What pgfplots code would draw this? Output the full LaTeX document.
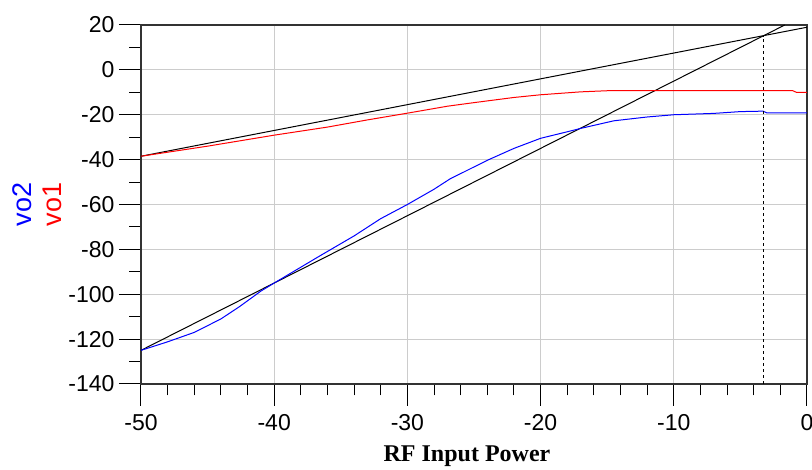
\documentclass[border=0pt]{standalone}
\usepackage{fontspec}
\setmainfont{Liberation Sans}
\newfontfamily\serifbold{Liberation Serif}
\usepackage{pgfplots}
\pgfplotsset{compat=1.18}

\begin{document}
\begin{tikzpicture}
\begin{axis}[
  at={(0pt,0pt)}, anchor=south west,
  scale only axis,
  width=666pt, height=359pt,
  xmin=-50, xmax=0, ymin=-140, ymax=20,
  xtick={-50,-40,...,0},
  ytick={-140,-120,...,20},
  minor x tick num=4,
  minor y tick num=1,
  xtick pos=left, ytick pos=left,
  tick align=outside,
  major tick length=22pt,
  minor tick length=11.5pt,
  tick style={black, line width=1pt},
  axis line style={black!80, line width=1.2pt},
  grid=major,
  major grid style={black!20, line width=1pt},
  /pgf/number format/assume math mode=true,
  ticklabel style={font=\fontsize{23}{26}\selectfont},
  xticklabel style={yshift=-5pt},
  yticklabel style={xshift=-1pt},
  xlabel={\serifbold\bfseries RF Input Power},
  xlabel style={font=\fontsize{24}{28}\selectfont, at={(axis description cs:0.5,0)}, anchor=base, yshift=-77.5pt, xshift=-7pt},
  ylabel={\textcolor{blue}{vo2}\\\textcolor{red}{vo1}},
  ylabel style={font=\fontsize{27}{30}\selectfont, align=center, inner sep=0pt,
    at={([xshift=-79pt]axis description cs:0,0.5)}, anchor=south},
  every axis plot/.append style={line join=round},
]
\addplot[black, line width=1pt] coordinates {(-50,-38.5) (0,19)};
\addplot[black, line width=1pt] coordinates {(-50,-125) (-1.667,20)};
\addplot[red, line width=1pt] coordinates {
  (-50,-38.5) (-45,-34) (-40,-29.1) (-36,-25.5) (-33,-22.3) (-30,-19.3)
  (-27,-16.2) (-25,-14.6) (-22,-12.3) (-20,-11.1) (-17,-9.8) (-15,-9.3)
  (-10,-9.2) (-5,-9.2) (-1.1,-9.2) (-0.8,-10) (0,-10)
};
\addplot[blue, line width=1pt] coordinates {
  (-50,-125) (-48,-121.2) (-46,-117) (-44,-111) (-42.6,-105.5) (-41,-98.6)
  (-40,-95) (-38.3,-89) (-36.6,-83) (-34,-74) (-32,-66.3) (-30,-60) (-28,-53.2) (-26.8,-48.6)
  (-24,-40.3) (-22,-35) (-20,-30.5) (-18,-27.6) (-17,-26.1) (-14.5,-22.7)
  (-12,-21) (-10,-20) (-7,-19.4) (-5,-18.6) (-3.3,-18.4) (-3,-19.2) (0,-19.2)
};
\addplot[black, line width=1pt, dash pattern=on 3pt off 3pt] coordinates {(-3.25,-140) (-3.25,15.2)};
\end{axis}
\pgfresetboundingbox
\path (-141pt,-86pt) rectangle (671pt,384pt);
\end{tikzpicture}
\end{document}
